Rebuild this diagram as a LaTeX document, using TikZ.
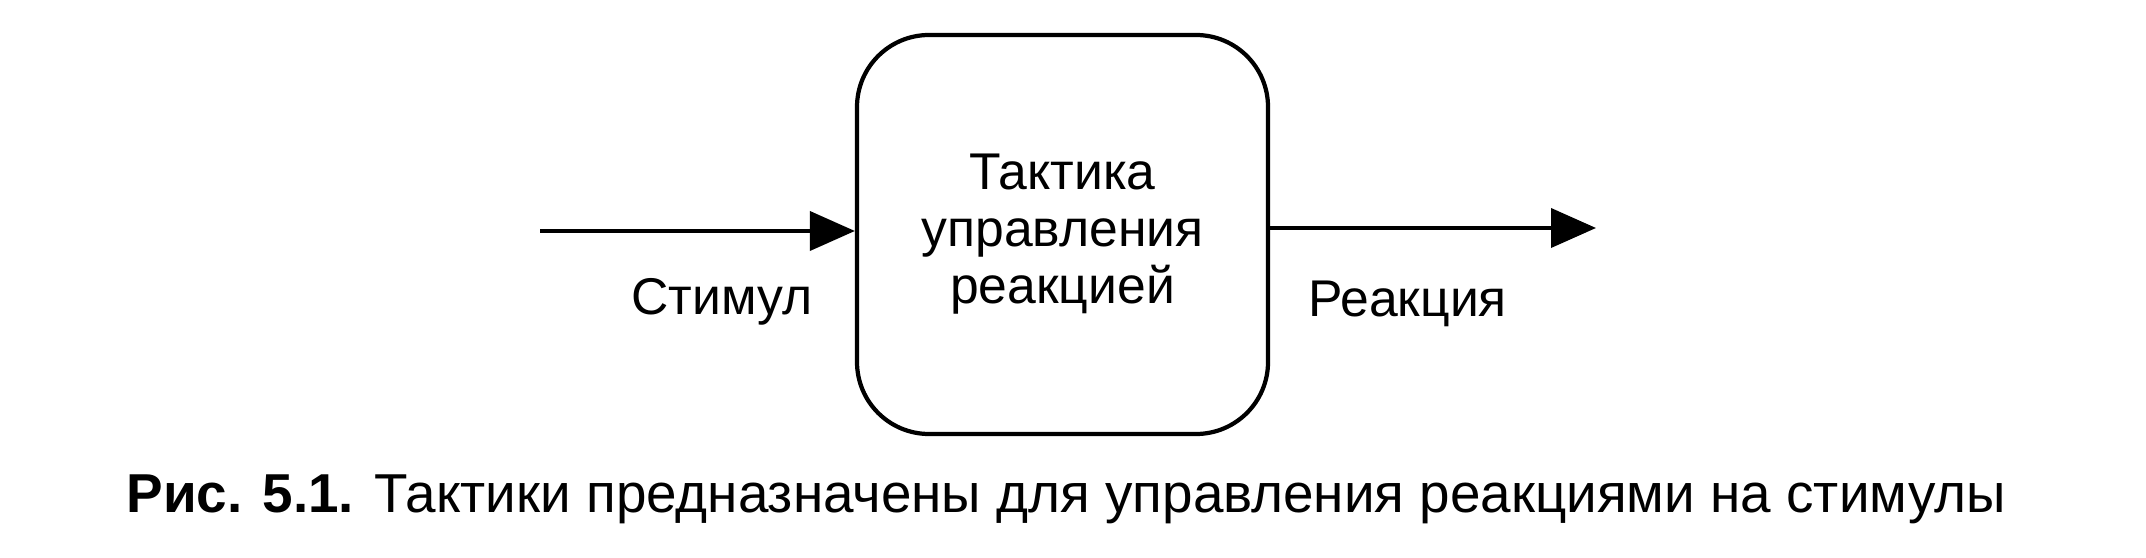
\documentclass[tikz,border=0pt]{standalone}
\usepackage{fontspec}
\setmainfont{Liberation Sans}
\usetikzlibrary{arrows.meta, positioning}
\tikzset{
    >={Triangle[length=4.5mm,width=3.9mm]}, % filled arrow heads
    tactic/.style={draw, line width=1.2pt, rounded corners=0.72cm,
        minimum width=4.11cm, minimum height=3.99cm, align=center,
        font=\fontsize{14.7}{16.2}\selectfont}, % the rounded box
    tag/.style={anchor=base, font=\fontsize{14.7}{16}\selectfont}, % labels under the arrows
    caption/.style={anchor=base, font=\fontsize{15.6}{18}\selectfont},
}
\tikzstyle{arrow} = [line width=1.1pt, ->]

\begin{document}
\begin{tikzpicture}
    \useasboundingbox (0,0) rectangle (21.46,-5.58);

    \node[tactic] (T) at (10.625,-2.345) {Тактика\\управления\\реакцией};

    \coordinate (S) at (5.40,-2.31);
    \coordinate (R) at (15.96,-2.28);
    \draw[arrow] (S) -- (S -| T.west);
    \draw[arrow] (R -| T.east) -- (R);

    \node[tag] (stim) at (7.22,-3.15) {Стимул};
    \node[tag] (resp) at (14.075,-3.17) {Реакция};

    \node[caption] (cap) at (10.66,-5.13)
        {\textbf{Рис. 5.1.} Тактики предназначены для управления реакциями на стимулы};
\end{tikzpicture}
\end{document}
